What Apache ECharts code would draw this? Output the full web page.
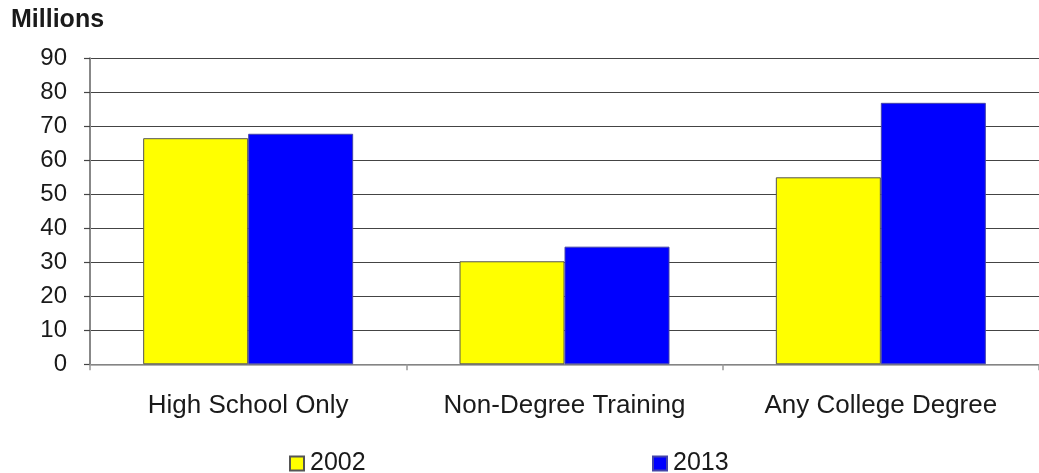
<!DOCTYPE html>
<html>
<head>
<meta charset="utf-8">
<script src="https://cdn.jsdelivr.net/npm/echarts@6/dist/echarts.min.js"></script>
<style>
  html, body { margin: 0; padding: 0; background: #fff; }
  #chart { width: 1039px; height: 473px; }
</style>
</head>
<body>
<div id="chart"></div>
<script>
// Workers by education level, in millions
const categories = ['High School Only', 'Non-Degree Training', 'Any College Degree'];
const series2002 = [66.5, 30.3, 55.0];
const series2013 = [67.8, 34.6, 76.9];
const yTicks = { min: 0, max: 90, interval: 10 };

const FONT = '"Liberation Sans", Arial, sans-serif';
const TEXT = '#1a1a1a';

const chart = echarts.init(document.getElementById('chart'), null, { renderer: 'canvas' });

chart.setOption({
  animation: false,
  backgroundColor: '#fff',
  title: {
    text: 'Millions',
    left: 11,
    top: 8,
    padding: 0,
    textStyle: { fontFamily: FONT, fontWeight: 'bold', fontSize: 25, color: TEXT }
  },
  legend: [
    {
      data: ['2002'],
      left: 289, top: 451, padding: 0,
      icon: 'rect', itemWidth: 14, itemHeight: 14, itemGap: 0,
      textStyle: { fontFamily: FONT, fontSize: 25, color: TEXT, padding: [0, 0, 0, 1] }
    },
    {
      data: ['2013'],
      left: 652, top: 451, padding: 0,
      icon: 'rect', itemWidth: 14, itemHeight: 14, itemGap: 0,
      textStyle: { fontFamily: FONT, fontSize: 25, color: TEXT, padding: [0, 0, 0, 1] }
    }
  ],
  grid: { left: 90, right: -3, top: 58.3, bottom: 108.7, containLabel: false },
  xAxis: {
    type: 'category',
    data: categories,
    boundaryGap: true,
    axisLine: { show: true, lineStyle: { color: '#999', width: 1.5 } },
    axisTick: { show: true, length: 6, alignWithLabel: false, lineStyle: { color: '#999', width: 1.5 } },
    axisLabel: { margin: 29, fontFamily: FONT, fontSize: 26, color: TEXT },
    splitLine: { show: false }
  },
  yAxis: {
    type: 'value',
    min: yTicks.min,
    max: yTicks.max,
    interval: yTicks.interval,
    axisLine: { show: true, lineStyle: { color: '#888', width: 2 } },
    axisTick: { show: true, length: 6, lineStyle: { color: '#444', width: 1.2 } },
    axisLabel: { margin: 23, fontFamily: FONT, fontSize: 24, color: TEXT },
    splitLine: { show: true, lineStyle: { color: '#444', width: 1.2 } }
  },
  series: [
    {
      name: '2002',
      type: 'bar',
      data: series2002,
      barWidth: 105,
      barGap: '0%',
      itemStyle: { color: '#FFFF00', borderColor: '#555', borderWidth: 1 }
    },
    {
      name: '2013',
      type: 'bar',
      data: series2013,
      barWidth: 105,
      barGap: '0%',
      itemStyle: { color: '#0000FF', borderColor: '#4444aa', borderWidth: 1 }
    }
  ]
});
</script>
</body>
</html>
